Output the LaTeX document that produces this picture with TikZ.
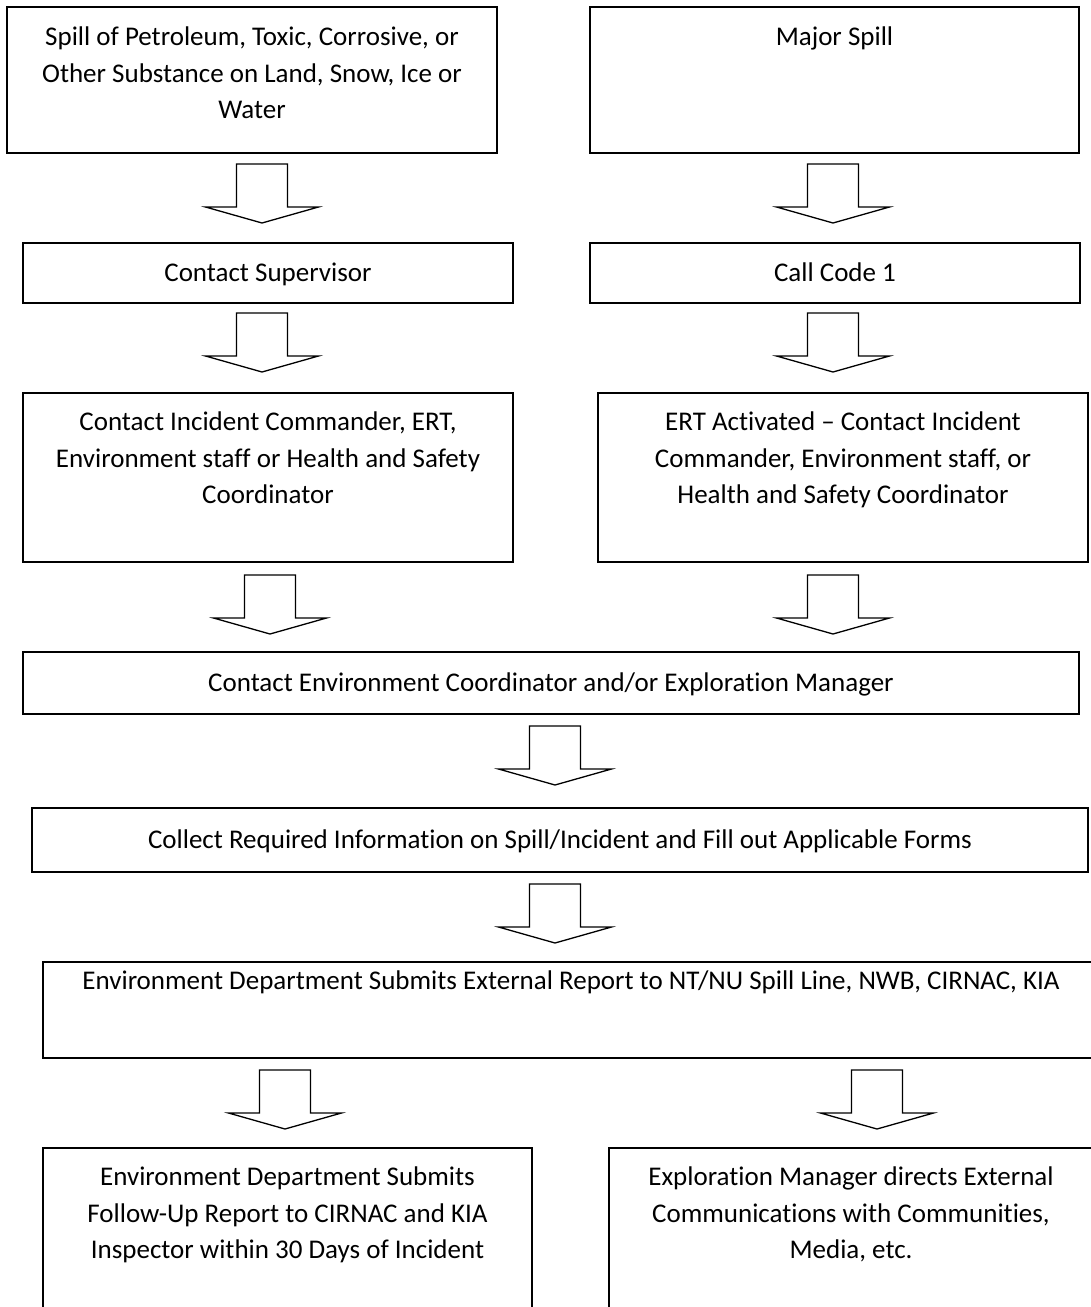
\documentclass[tikz,border=0pt]{standalone}
\usepackage{fontspec}
\setmainfont[Ligatures=NoCommon]{Carlito}
\newcommand{\bxt}[4]{\begin{minipage}[c][#2pt][t]{#1pt}\fontsize{27pt}{36.5pt}\selectfont\centering\rule{0pt}{#3pt}#4\end{minipage}}
\tikzset{
  box/.style={draw, line width=1.6pt, inner sep=0pt, outer sep=0pt, fill=white},
  blockarr/.pic={\draw[line width=1.3pt, fill=white, line join=miter]
    (-25.5,0) -- (25.5,0) -- (25.5,43) -- (56.5,43) -- (0,59) -- (-56.5,43) -- (-25.5,43) -- cycle;}
}
\begin{document}
\begin{tikzpicture}[x=1pt,y=-1pt]
\useasboundingbox (0,0) rectangle (1091,1307);
\fill[white] (0,0) rectangle (1091,1307);
\clip (0,0) rectangle (1091,1307);
% row 1
\node[box] (b1) at (252,80) {\bxt{490}{146}{38.7}{Spill of Petroleum, Toxic, Corrosive, or\\Other Substance on Land, Snow, Ice or\\Water}};
\node[box] (b2) at (834.5,80) {\bxt{489}{146}{38.7}{Major Spill}};
% row 2
\node[box] (b3) at (268,273) {\bxt{490}{60}{38.7}{Contact Supervisor}};
\node[box] (b4) at (835,273) {\bxt{490}{60}{38.7}{Call Code 1}};
% row 3
\node[box] (b5) at (268,477.5) {\bxt{490}{169}{37.7}{Contact Incident Commander, ERT,\\Environment staff or Health and Safety\\Coordinator}};
\node[box] (b6) at (843,477.5) {\bxt{490}{169}{37.7}{ERT Activated -- Contact Incident\\Commander, Environment staff, or\\Health and Safety Coordinator}};
% single rows
\node[box] (b7) at (551,683) {\bxt{1056}{62}{39.7}{Contact Environment Coordinator and/or Exploration Manager}};
\node[box] (b8) at (560,840) {\bxt{1056}{64}{40.7}{Collect Required Information on Spill/Incident and Fill out Applicable Forms}};
\node[box] (b9) at (571,1010) {\bxt{1056}{96}{27.7}{Environment Department Submits External Report to NT/NU Spill Line, NWB, CIRNAC, KIA}};
% bottom row
\node[box] (b10) at (287.5,1239) {\bxt{489}{182}{37.7}{Environment Department Submits\\Follow-Up Report to CIRNAC and KIA\\Inspector within 30 Days of Incident}};
\node[box] (b11) at (851,1239) {\bxt{484}{182}{37.7}{Exploration Manager directs External\\Communications with Communities,\\Media, etc.}};
% block arrows
\pic (a1) at (262,164) {blockarr};
\pic (a2) at (833,164) {blockarr};
\pic (a3) at (262,313) {blockarr};
\pic (a4) at (833,313) {blockarr};
\pic (a5) at (270,575) {blockarr};
\pic (a6) at (833,575) {blockarr};
\pic (a7) at (555,726) {blockarr};
\pic (a8) at (555,884) {blockarr};
\pic (a9) at (285,1070) {blockarr};
\pic (a10) at (877,1070) {blockarr};
\end{tikzpicture}
\end{document}
